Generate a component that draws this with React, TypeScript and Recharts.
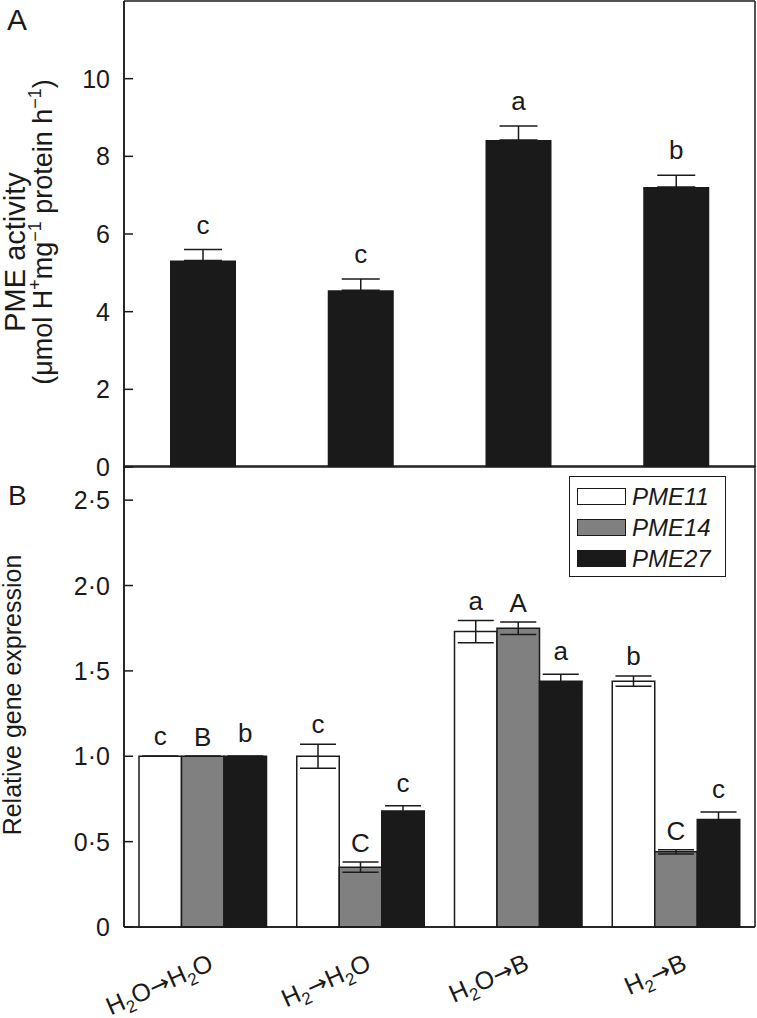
import React from 'react';
import { BarChart, Bar, XAxis, YAxis, ErrorBar, LabelList, Label, Legend, CartesianGrid } from 'recharts';

const categories = ['H2O→H2O', 'H2→H2O', 'H2O→B', 'H2→B'];

// panel A
const activity = [5.32, 4.55, 8.42, 7.21];
const activityErr = [0.28, 0.29, 0.36, 0.3];
const activityLetters = ['c', 'c', 'a', 'b'];
const ticksA = [0, 2, 4, 6, 8, 10];

// panel B
const pme11 = [1.0, 1.0, 1.73, 1.44];
const pme11Err = [0, 0.07, 0.065, 0.03];
const pme11Letters = ['c', 'c', 'a', 'b'];
const pme14 = [1.0, 0.35, 1.75, 0.44];
const pme14Err = [0, 0.03, 0.037, 0.012];
const pme14Letters = ['B', 'C', 'A', 'C'];
const pme27 = [1.0, 0.68, 1.44, 0.63];
const pme27Err = [0, 0.03, 0.04, 0.043];
const pme27Letters = ['b', 'c', 'a', 'c'];
const ticksB = [0, 0.5, 1, 1.5, 2, 2.5];

const FONT = '"Liberation Sans", Arial, Helvetica, sans-serif';
const INK = '#1a1a1a';

const dataA = categories.map((name, i) => ({
  name,
  value: activity[i],
  err: [0, activityErr[i]],
}));

const dataB = categories.map((name, i) => ({
  name,
  PME11: pme11[i],
  e11: [pme11Err[i], pme11Err[i]],
  PME14: pme14[i],
  e14: [pme14Err[i], pme14Err[i]],
  PME27: pme27[i],
  e27: [pme27Err[i], pme27Err[i]],
}));

const fmtB = (v: number) => (v === 0 ? '0' : v.toFixed(1).replace('.', '·'));

const YTick = ({ x, y, payload, fmt }: any) => (
  <g>
    <line x1={x} y1={y} x2={x + 9} y2={y} stroke={INK} strokeWidth={1.5} />
    <text x={x - 14} y={y} dy="0.36em" textAnchor="end" fontSize={25} fontFamily={FONT} fill={INK}>
      {fmt ? fmt(payload.value) : payload.value}
    </text>
  </g>
);

// H2O -> H<sub>2</sub>O, arrow from DejaVu (full length glyph)
const withSubs = (s: string) => {
  const parts: React.ReactNode[] = [];
  let sub = false;
  s.split('').forEach((ch, i) => {
    const isSub = ch === '2' && i > 0 && s[i - 1] === 'H';
    if (isSub) {
      parts.push(<tspan key={i} fontSize={17} dy={6}>{ch}</tspan>);
      sub = true;
    } else if (ch === '→') {
      parts.push(<tspan key={i} dy={sub ? -6 : 0} fontFamily="DejaVu Sans" fontSize={24}>{ch}</tspan>);
      sub = false;
    } else {
      parts.push(<tspan key={i} dy={sub ? -6 : 0}>{ch}</tspan>);
      sub = false;
    }
  });
  return parts;
};

const XTick = ({ x, y, payload }: any) => (
  <g transform={`translate(${x + 12},${y + 42}) rotate(-24)`}>
    <text textAnchor="end" fontSize={25} fontFamily={FONT} fill={INK}>
      {withSubs(payload.value)}
    </text>
  </g>
);

const letterLabel = (letters: string[], errs: number[], gap: number) => (props: any) => {
  const { x, y, width, height, value, index } = props;
  const px = value ? (errs[index] * height) / value : 0;
  return (
    <text x={x + width / 2} y={y - px - gap} textAnchor="middle" fontSize={26} fontFamily={FONT} fill={INK}>
      {letters[index]}
    </text>
  );
};

const TitleA = () => (
  <g fontFamily={FONT} fontSize={29} fill={INK}>
    <text transform="translate(25,252) rotate(-90)" textAnchor="middle">PME activity</text>
    <text transform="translate(52,232) rotate(-90)" textAnchor="middle" fontSize={27}>
      (μmol H<tspan fontSize={18} dy={-11}>+</tspan>
      <tspan dy={11}>mg</tspan>
      <tspan fontSize={18} dy={-11}>−1</tspan>
      <tspan dy={11}> protein h</tspan>
      <tspan fontSize={18} dy={-11}>−1</tspan>
      <tspan dy={11}>)</tspan>
    </text>
    <text x={7} y={30} fontSize={30}>A</text>
  </g>
);

const TitleB = () => (
  <g fontFamily={FONT} fontSize={25} fill={INK}>
    <text transform="translate(21,229) rotate(-90)" textAnchor="middle">Relative gene expression</text>
    <text x={8} y={39} fontSize={28}>B</text>
  </g>
);

const LegendBox = ({ payload }: any) => (
  <div
    style={{
      border: `1.5px solid ${INK}`,
      background: '#fff',
      padding: '4px 6px 2px 7px',
      fontFamily: FONT,
      fontStyle: 'italic',
      fontSize: 24,
      color: INK,
      lineHeight: '31px',
      whiteSpace: 'nowrap',
    }}
  >
    {(payload || []).map((p: any) => (
      <div key={p.value} style={{ display: 'flex', alignItems: 'center', height: 31 }}>
        <span
          style={{
            display: 'inline-block',
            width: 47,
            height: 15,
            background: p.color,
            border: `1.5px solid ${INK}`,
            marginRight: 6,
          }}
        />
        {p.value}
      </div>
    ))}
  </div>
);

// box round the plot area
const frameH = ({ offset }: any) => [offset.top, offset.top + offset.height];
const frameV = ({ offset }: any) => [offset.left, offset.left + offset.width];

const Frame = () => (
  <CartesianGrid
    stroke={INK}
    strokeWidth={1.5}
    horizontalCoordinatesGenerator={frameH}
    verticalCoordinatesGenerator={frameV}
  />
);

export default function App() {
  return (
    <div style={{ position: 'absolute', left: 0, top: 0, width: 757, height: 1018, background: '#fff' }}>
      <style>{'svg { overflow: visible; }'}</style>
      <div style={{ position: 'absolute', left: 0, top: 0 }}>
        <BarChart width={757} height={467} data={dataA} margin={{ top: 1, right: 2, bottom: 0, left: 0 }}>
          {Frame()}
          <XAxis dataKey="name" hide />
          <YAxis
            width={124}
            domain={[0, 12]}
            ticks={ticksA}
            tickSize={0}
            tickMargin={0}
            stroke={INK}
            strokeWidth={1.5}
            tick={<YTick />}
            interval={0}
          >
            <Label content={<TitleA />} />
          </YAxis>
          <Bar dataKey="value" fill={INK} barSize={66} isAnimationActive={false}>
            <ErrorBar dataKey="err" width={19} stroke={INK} strokeWidth={1.5} />
            <LabelList content={letterLabel(activityLetters, activityErr, 16)} />
          </Bar>
        </BarChart>
      </div>
      <div style={{ position: 'absolute', left: 0, top: 466 }}>
        <BarChart
          width={757}
          height={552}
          data={dataB}
          barGap={0}
          margin={{ top: 0, right: 2, bottom: 0, left: 0 }}
        >
          {Frame()}
          <XAxis
            dataKey="name"
            height={91}
            stroke={INK}
            strokeWidth={1.5}
            tickLine={false}
            tickSize={0}
            tickMargin={0}
            tick={<XTick />}
            interval={0}
          />
          <YAxis
            width={124}
            domain={[0, 2.7]}
            ticks={ticksB}
            tickSize={0}
            tickMargin={0}
            stroke={INK}
            strokeWidth={1.5}
            tick={<YTick fmt={fmtB} />}
            interval={0}
          >
            <Label content={<TitleB />} />
          </YAxis>
          <Legend
            content={<LegendBox />}
            layout="horizontal"
            verticalAlign="middle"
            align="center"
            wrapperStyle={{ position: 'absolute', left: 569, top: 10, width: 157 }}
          />
          <Bar dataKey="PME11" fill="#ffffff" stroke={INK} strokeWidth={1.5} barSize={42.5} isAnimationActive={false}>
            <ErrorBar dataKey="e11" width={18} stroke={INK} strokeWidth={1.5} />
            <LabelList content={letterLabel(pme11Letters, pme11Err, 11)} />
          </Bar>
          <Bar dataKey="PME14" fill="#808080" stroke={INK} strokeWidth={1.5} barSize={42.5} isAnimationActive={false}>
            <ErrorBar dataKey="e14" width={18} stroke={INK} strokeWidth={1.5} />
            <LabelList content={letterLabel(pme14Letters, pme14Err, 10)} />
          </Bar>
          <Bar dataKey="PME27" fill={INK} stroke={INK} strokeWidth={1.5} barSize={42.5} isAnimationActive={false}>
            <ErrorBar dataKey="e27" width={18} stroke={INK} strokeWidth={1.5} />
            <LabelList content={letterLabel(pme27Letters, pme27Err, 14)} />
          </Bar>
        </BarChart>
      </div>
    </div>
  );
}
